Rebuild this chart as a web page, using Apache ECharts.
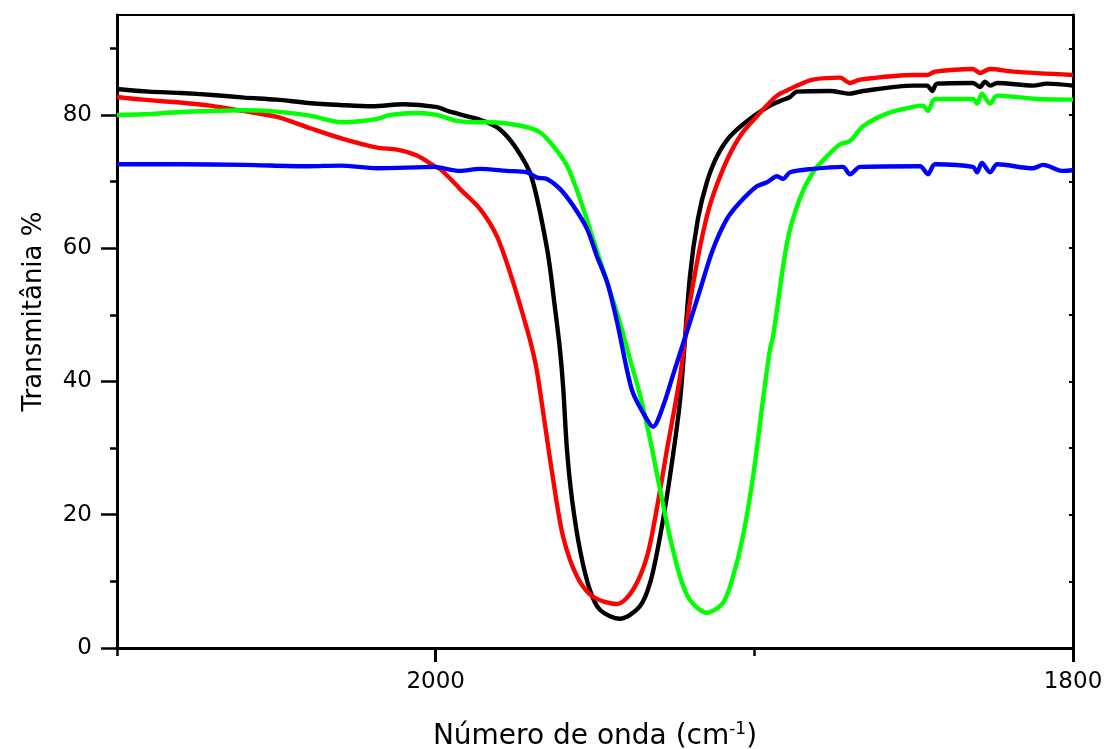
<!DOCTYPE html>
<html>
<head>
<meta charset="utf-8">
<script src="https://cdn.jsdelivr.net/npm/echarts@6/dist/echarts.min.js"></script>
<style>html,body{margin:0;padding:0;background:#fff}#c{width:1105px;height:749px}</style>
</head>
<body>
<div id="c"></div>
<script>
// x ticks / y ticks
const xMajorTicks = [1800, 2000];
const xMinorTicks = [1900, 2100];
const yMajorTicks = [0, 20, 40, 60, 80];
const yMinorTicks = [10, 30, 50, 70, 90];
const yRightTicks = [0, 10, 20, 30, 40, 50, 60, 70, 80, 90];

// Black series
const blackWn = [2100, 2090, 2080, 2070, 2060, 2050, 2040, 2030, 2020, 2010, 2000, 1995.5, 1990, 1985, 1980, 1975, 1970, 1965, 1962.5, 1961, 1960, 1958.8, 1957.2, 1954.7, 1951.6, 1948.4, 1942.2, 1936, 1932.7, 1929.6, 1926.5, 1923.3, 1920.2, 1917.7, 1914.9, 1911.7, 1907.6, 1901.4, 1895.1, 1891.9, 1888.8, 1886.6, 1876.3, 1870, 1865.9, 1850.2, 1845.8, 1844.2, 1842.7, 1831.4, 1829.2, 1827.6, 1826, 1823.8, 1812.5, 1808.2, 1800];
const blackT  = [83.9, 83.5, 83.3, 83.0, 82.6, 82.3, 81.8, 81.5, 81.3, 81.6, 81.2, 80.5, 79.8, 79.1, 77.9, 75.2, 70.8, 59.8, 50.8, 44.8, 39.2, 29.8, 22.3, 14.7, 8.7, 5.7, 4.4, 6.2, 9.8, 16.7, 25.7, 37.2, 55.8, 64.4, 69.9, 73.8, 76.8, 79.4, 81.4, 82.1, 82.7, 83.5, 83.6, 83.2, 83.6, 84.4, 84.4, 83.6, 84.7, 84.8, 84.2, 85.0, 84.4, 84.8, 84.4, 84.7, 84.4];

// Red series
const redWn = [2100, 2091.8, 2081.2, 2070.8, 2060.5, 2049.8, 2039.4, 2029.1, 2018.4, 2012.1, 2005.9, 1999.6, 1998.6, 1993.3, 1992.4, 1986.1, 1980.8, 1975.7, 1971.3, 1969.5, 1968.2, 1966.3, 1963.2, 1960, 1955.6, 1950.6, 1943.1, 1938.1, 1933.7, 1930.5, 1927.4, 1923.3, 1920.2, 1914.9, 1909.8, 1904.5, 1899.2, 1894.1, 1891.9, 1888.8, 1886.6, 1881.6, 1873.1, 1870, 1866.8, 1850.2, 1845.8, 1843.3, 1831.4, 1829.2, 1826, 1818.8, 1800];
const redT  = [82.7, 82.3, 81.9, 81.4, 80.6, 79.7, 78.0, 76.4, 75.1, 74.8, 73.9, 72.1, 71.9, 69.4, 68.9, 65.9, 61.8, 54.9, 47.8, 44.5, 41.5, 35.5, 25.5, 16.7, 10.7, 7.7, 6.6, 8.7, 13.7, 21.2, 29.8, 40.8, 51.9, 64.8, 71.9, 76.8, 79.8, 82.4, 83.2, 83.9, 84.4, 85.3, 85.6, 84.8, 85.3, 86.0, 86.0, 86.5, 86.9, 86.3, 86.9, 86.5, 86.0];

// Green series
const greenWn = [2100, 2091.8, 2081.2, 2070.8, 2060.5, 2049.8, 2039.4, 2029.1, 2022.8, 2018.4, 2014.3, 2005.9, 1999.6, 1993.3, 1987, 1982.9, 1972.6, 1967.3, 1963.2, 1958.8, 1954.7, 1950.6, 1946.2, 1942.2, 1939, 1935.9, 1932.7, 1929.6, 1926.5, 1923.3, 1920.2, 1914.9, 1909.8, 1906.7, 1903.6, 1900.4, 1897.3, 1895.1, 1894.1, 1889.7, 1885.7, 1881.6, 1877.2, 1873.1, 1870.9, 1869.3, 1865.9, 1858.4, 1850.2, 1847.1, 1845.5, 1843.3, 1831.4, 1830.1, 1828.6, 1826, 1823.8, 1811.3, 1800];
const greenT  = [80.0, 80.1, 80.4, 80.6, 80.7, 80.5, 79.9, 78.9, 79.1, 79.4, 80.0, 80.3, 80.0, 79.1, 78.9, 78.9, 78.3, 77.4, 75.4, 72.4, 67.4, 61.4, 54.9, 48.9, 43.3, 38.0, 31.3, 23.8, 16.7, 10.7, 7.2, 5.3, 6.8, 10.7, 16.7, 25.7, 37.2, 44.8, 46.8, 60.9, 67.5, 71.4, 73.8, 75.6, 75.9, 76.4, 78.3, 80.2, 81.2, 81.4, 80.6, 82.4, 82.4, 81.7, 83.2, 81.7, 82.9, 82.4, 82.3];

// Blue series
const blueWn = [2100, 2080, 2060, 2040, 2030, 2018.4, 2000, 1998.6, 1992.4, 1986.1, 1977.6, 1971.3, 1968.2, 1965.1, 1961, 1956.9, 1952.5, 1949.4, 1946.2, 1943.1, 1940, 1938.1, 1934.9, 1931.8, 1928.7, 1925.5, 1921.2, 1917, 1913, 1908.6, 1904.5, 1899.2, 1896, 1892.9, 1891, 1888.8, 1881.6, 1872.2, 1870, 1866.8, 1848, 1845.5, 1843.3, 1831.4, 1830.1, 1828.6, 1826, 1823.8, 1812.5, 1809.4, 1803.1, 1800];
const blueT  = [72.6, 72.6, 72.5, 72.3, 72.4, 72.0, 72.2, 72.1, 71.6, 71.9, 71.6, 71.4, 70.6, 70.4, 68.9, 66.4, 62.9, 58.8, 54.9, 49.0, 41.8, 38.3, 35.3, 33.2, 36.2, 41.0, 47.4, 53.8, 59.8, 64.4, 66.9, 69.3, 69.9, 70.8, 70.4, 71.4, 71.9, 72.2, 71.1, 72.2, 72.3, 71.1, 72.6, 72.2, 71.4, 72.8, 71.4, 72.6, 72.0, 72.5, 71.6, 71.7];

function pairs(xs, ys) { return xs.map((x, i) => [x, ys[i]]); }

const FONT = 'DejaVu Sans';
const chart = echarts.init(document.getElementById('c'), null, { renderer: 'canvas' });

function lineSeries(name, color, xs, ys) {
  return {
    name: name, type: 'line', xAxisIndex: 0, yAxisIndex: 0,
    data: pairs(xs, ys), showSymbol: false, smooth: 0.3,
    lineStyle: { color: color, width: 4.4 }, itemStyle: { color: color },
    animation: false
  };
}

chart.setOption({
  animation: false,
  backgroundColor: '#ffffff',
  grid: { left: 117, right: 32, top: 15, bottom: 101, containLabel: false, outerBoundsMode: 'none', show: true, borderColor: '#000', borderWidth: 2, backgroundColor: 'transparent' },
  xAxis: [
    {
      type: 'value', min: 1800, max: 2100, inverse: true, position: 'bottom',
      axisLine: { show: true, onZero: false, lineStyle: { color: '#000', width: 3 } },
      axisTick: { show: true, inside: false, length: 14, customValues: xMajorTicks, lineStyle: { color: '#000', width: 3 } },
      axisLabel: { show: true, customValues: xMajorTicks, margin: 23, color: '#000', fontFamily: FONT, fontSize: 23, formatter: v => String(v) },
      splitLine: { show: false },
      name: '{t|Número de onda (cm}{s|-1}{t|)}', nameLocation: 'middle', nameGap: 73,
      nameTextStyle: {
        rich: {
          t: { fontFamily: FONT, fontSize: 28, color: '#000', lineHeight: 32 },
          s: { fontFamily: FONT, fontSize: 17, color: '#000', verticalAlign: 'top', lineHeight: 18 }
        }
      }
    },
    {
      type: 'value', min: 1800, max: 2100, inverse: true, position: 'bottom',
      axisLine: { show: false, onZero: false },
      axisTick: { show: true, inside: false, length: 8, customValues: xMinorTicks, lineStyle: { color: '#000', width: 2.5 } },
      axisLabel: { show: false }, splitLine: { show: false }
    }
  ],
  yAxis: [
    {
      type: 'value', min: 0, max: 95, position: 'left',
      axisLine: { show: true, onZero: false, lineStyle: { color: '#000', width: 3 } },
      axisTick: { show: true, inside: false, length: 16, customValues: yMajorTicks, lineStyle: { color: '#000', width: 2.5 } },
      axisLabel: { show: true, customValues: yMajorTicks, margin: 25, color: '#000', fontFamily: FONT, fontSize: 23, formatter: v => String(v) },
      splitLine: { show: false },
      name: 'Transmitânia %', nameLocation: 'middle', nameGap: 70, nameRotate: 90,
      nameTextStyle: { fontFamily: FONT, fontSize: 26, color: '#000', padding: [0, 0, 0, 40] }
    },
    {
      type: 'value', min: 0, max: 95, position: 'left',
      axisLine: { show: false, onZero: false },
      axisTick: { show: true, inside: false, length: 7, customValues: yMinorTicks, lineStyle: { color: '#000', width: 2.5 } },
      axisLabel: { show: false }, splitLine: { show: false }
    },
    {
      type: 'value', min: 0, max: 95, position: 'right',
      axisLine: { show: true, onZero: false, lineStyle: { color: '#000', width: 3 } },
      axisTick: { show: true, inside: true, length: 4, customValues: yRightTicks, lineStyle: { color: '#000', width: 2 } },
      axisLabel: { show: false }, splitLine: { show: false }
    }
  ],
  series: [
    lineSeries('Black', '#000000', blackWn, blackT),
    lineSeries('Red', '#ff0000', redWn, redT),
    lineSeries('Green', '#00ff00', greenWn, greenT),
    lineSeries('Blue', '#0000ff', blueWn, blueT)
  ]
});
</script>
</body>
</html>
